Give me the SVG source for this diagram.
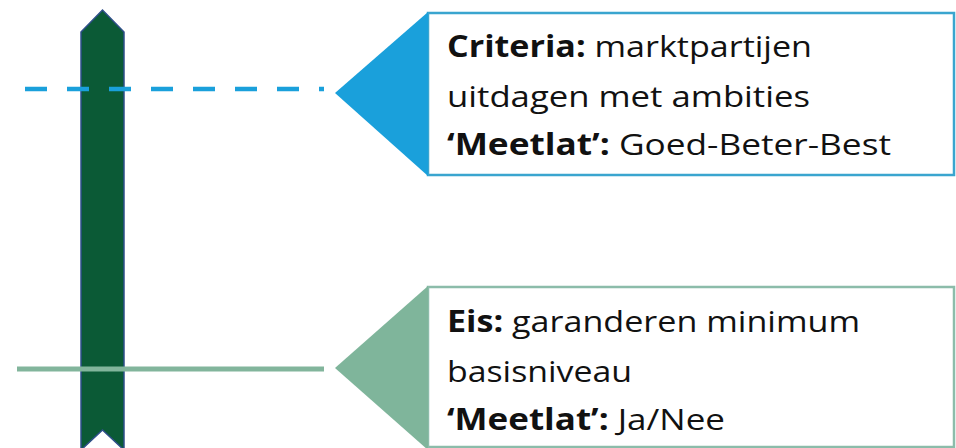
<svg xmlns="http://www.w3.org/2000/svg" width="956" height="448" viewBox="0 0 956 448">
<style>
.txt{font-family:"Open Sans","Liberation Sans",sans-serif;font-size:30px;fill:#111}
.b{font-weight:bold}
</style>
<rect width="956" height="448" fill="#ffffff"/>
<g id="bar">
<path d="M81,32 L102.5,10 L124,32 L124,450 L102.5,430 L81,450 Z" fill="#0b5a36" stroke="#2f4f8a" stroke-width="1.5"/>
</g>
<g id="connectors">
<line x1="25" y1="89" x2="324" y2="89" stroke="#1aa0db" stroke-width="4.5" stroke-dasharray="22 20"/>
<line x1="17" y1="369" x2="324" y2="369" stroke="#82b59c" stroke-width="5"/>
</g>
<g id="criteria">
<rect x="428" y="13" width="526" height="162" fill="#ffffff" stroke="#3aa5cf" stroke-width="2.5"/>
<path d="M428,12 L335,93 L428,176 Z" fill="#1aa0db"/>
<text class="txt" x="447" y="57" textLength="365" lengthAdjust="spacingAndGlyphs"><tspan class="b">Criteria:</tspan> marktpartijen</text>
<text class="txt" x="447" y="107" textLength="363" lengthAdjust="spacingAndGlyphs">uitdagen met ambities</text>
<text class="txt" x="447" y="155" textLength="444" lengthAdjust="spacingAndGlyphs"><tspan class="b">‘Meetlat’:</tspan> Goed-Beter-Best</text>
</g>
<g id="eis">
<rect x="428" y="287" width="526" height="160" fill="#ffffff" stroke="#8cbcaa" stroke-width="2.5"/>
<path d="M428,286 L335,368 L428,450 Z" fill="#7fb59b"/>
<text class="txt" x="447" y="332" textLength="413" lengthAdjust="spacingAndGlyphs"><tspan class="b">Eis:</tspan> garanderen minimum</text>
<text class="txt" x="447" y="382" textLength="185" lengthAdjust="spacingAndGlyphs">basisniveau</text>
<text class="txt" x="447" y="430" textLength="278" lengthAdjust="spacingAndGlyphs"><tspan class="b">‘Meetlat’:</tspan> Ja/Nee</text>
</g>
</svg>
